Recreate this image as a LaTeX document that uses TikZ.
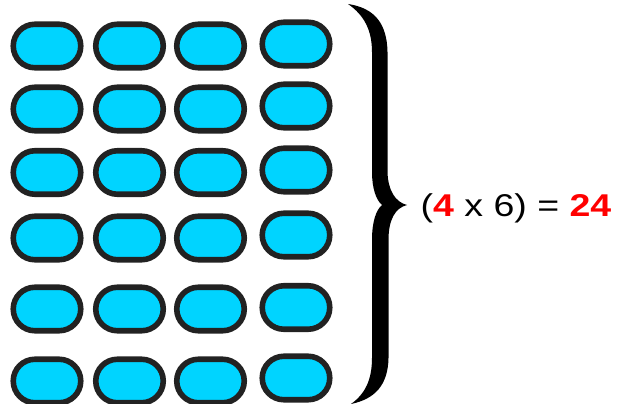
\documentclass[tikz,border=0pt]{standalone}
\usepackage{fontspec}
\setmainfont{Liberation Sans}
\definecolor{pillfill}{RGB}{0,212,255}
\definecolor{pillline}{RGB}{34,34,34}
\definecolor{numred}{RGB}{255,0,0}
\begin{document}
\begin{tikzpicture}[x=1pt,y=-1pt,
  pill/.style={rectangle, draw=pillline, fill=pillfill, line width=5.6pt,
    minimum width=67.5pt, minimum height=43.5pt, rounded corners=21.7pt, inner sep=0pt},
  eqtext/.style={inner sep=0pt, anchor=base west, font=\fontsize{31.5}{36}\selectfont}]
\useasboundingbox (0,0) rectangle (630,404);
% columns 1-3
\foreach \c/\x in {1/47,2/129.5,3/210.5}{
  \foreach \r/\y in {1/46,2/109,3/172.5,4/238,5/309,6/381}{
    \node[pill] (p\c\r) at (\x,\y) {};
  }
}
% column 4
\foreach \r/\y in {1/44,2/106,3/170,4/235,5/307.5,6/378}{
  \node[pill] (p4\r) at (296,\y) {};
}
% brace
\fill[black] (348,4) .. controls (375,8) and (387,24) .. (387.5,52)
  -- (387.5,172) .. controls (388,190) and (395,202) .. (407,205)
  .. controls (395,208) and (388.5,220) .. (388.5,240)
  -- (388.5,358) .. controls (388,385) and (375,399) .. (351,404)
  .. controls (365,394) and (372,380) .. (372,358)
  -- (372,240) .. controls (372,222) and (376,210) .. (382,205)
  .. controls (376,200) and (372,188) .. (372,172)
  -- (372,52) .. controls (372,30) and (364,15) .. (348,4) -- cycle;
% equation
\node[eqtext] (eq) at (420.5,216.7) {\scalebox{1.19}[1]{(\textcolor{numred}{\textbf{4}} x 6) = \textcolor{numred}{\textbf{24}}}};
\end{tikzpicture}
\end{document}
